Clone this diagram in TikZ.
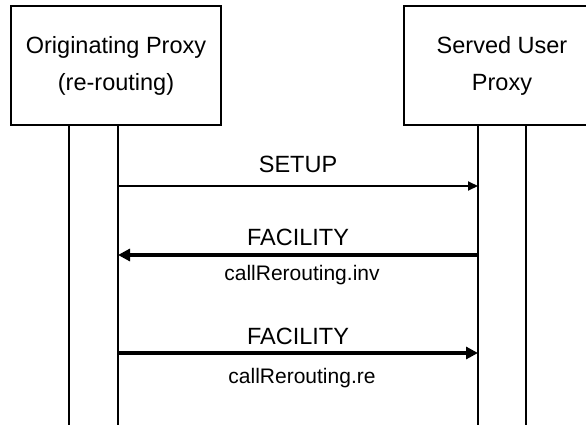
\documentclass[tikz,border=0pt]{standalone}
\usepackage{fontspec}
\setmainfont{Liberation Sans}
\usetikzlibrary{arrows.meta, positioning}

\begin{document}
\begin{tikzpicture}[
    x=1pt, y=-1pt,
    party/.style={draw, line width=2pt, minimum width=210pt, minimum height=119pt, align=center, font=\fontsize{23.5}{37}\selectfont},
    lifeline/.style={draw, line width=2pt},
    msgname/.style={font=\fontsize{23.5}{28}\selectfont, inner sep=0pt, anchor=base},
    msgparam/.style={font=\fontsize{21}{25}\selectfont, inner sep=0pt, anchor=base},
    thinmsg/.style={line width=2pt, -{Triangle[length=10pt, width=9pt]}},
    thickmsg/.style={line width=4.5pt, -{Triangle[length=12pt, width=12pt]}}
    ]
    \useasboundingbox (0,0) rectangle (586,425);

    % Nodes
    \node (orig) [party] at (116,65.5) {Originating Proxy\\(re-routing)};
    \node (served) [party, minimum width=196pt] at (502,65.5) {Served User\\Proxy};

    % Lifelines
    \coordinate (origA) at (69,126);
    \coordinate (origAend) at (69,426);
    \coordinate (origB) at (118,126);
    \coordinate (origBend) at (118,426);
    \coordinate (servA) at (478,126);
    \coordinate (servAend) at (478,426);
    \coordinate (servB) at (526,126);
    \coordinate (servBend) at (526,426);
    \draw[lifeline] (origA) -- (origAend);
    \draw[lifeline] (origB) -- (origBend);
    \draw[lifeline] (servA) -- (servAend);
    \draw[lifeline] (servB) -- (servBend);

    % Messages
    \coordinate (setupL) at (118,186);
    \coordinate (setupR) at (478,186);
    \coordinate (facOneL) at (118,255);
    \coordinate (facOneR) at (478,255);
    \coordinate (facTwoL) at (118,353);
    \coordinate (facTwoR) at (478,353);

    \node (setup) [msgname] at (298,172) {SETUP};
    \node (facone) [msgname] at (298,245) {FACILITY};
    \node (facinv) [msgparam] at (302,280) {callRerouting.inv};
    \node (factwo) [msgname] at (298,344) {FACILITY};
    \node (facre) [msgparam] at (302,383) {callRerouting.re};

    % Edges
    \draw[thinmsg] (setupL) -- (setupR);
    \draw[thickmsg] (facOneR) -- (facOneL);
    \draw[thickmsg] (facTwoL) -- (facTwoR);

\end{tikzpicture}
\end{document}
